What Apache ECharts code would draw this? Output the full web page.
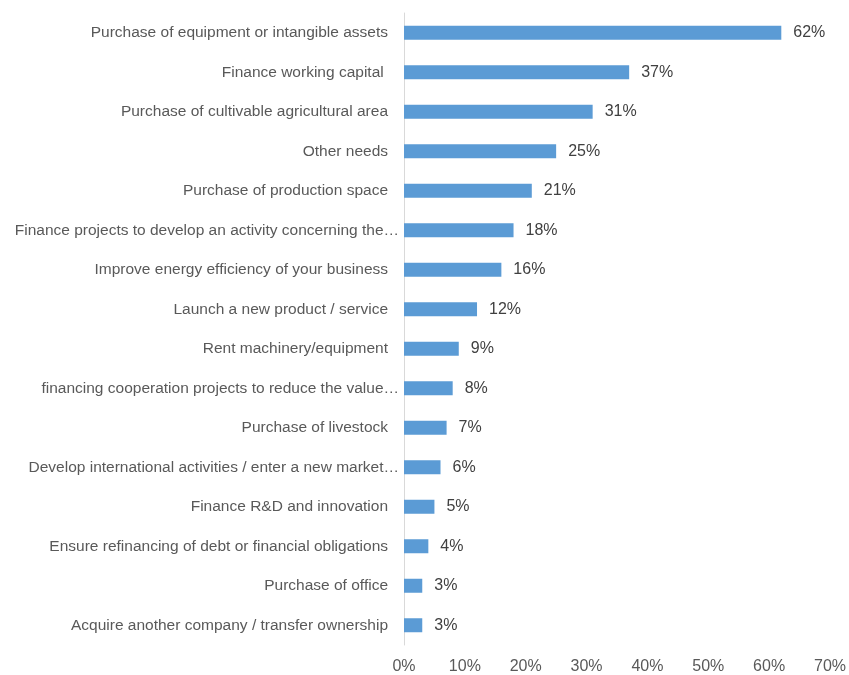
<!DOCTYPE html>
<html>
<head>
<meta charset="utf-8">
<script src="https://cdn.jsdelivr.net/npm/echarts@6/dist/echarts.min.js"></script>
<style>
  html, body { margin: 0; padding: 0; background: #ffffff; }
  #chart { width: 849px; height: 675px; }
</style>
</head>
<body>
<div id="chart"></div>
<script>
// Reasons for seeking financing, share of respondents (%)
const categories = [
  'Purchase of equipment or intangible assets',
  'Finance working capital ',
  'Purchase of cultivable agricultural area',
  'Other needs',
  'Purchase of production space',
  'Finance projects to develop an activity concerning the…',
  'Improve energy efficiency of your business',
  'Launch a new product / service',
  'Rent machinery/equipment',
  'financing cooperation projects to reduce the value…',
  'Purchase of livestock',
  'Develop international activities / enter a new market…',
  'Finance R&D and innovation',
  'Ensure refinancing of debt or financial obligations',
  'Purchase of office',
  'Acquire another company / transfer ownership'
];
const values = [62, 37, 31, 25, 21, 18, 16, 12, 9, 8, 7, 6, 5, 4, 3, 3];
const tickValues = [0, 10, 20, 30, 40, 50, 60, 70];

const FONT = 'Liberation Sans';

const chart = echarts.init(document.getElementById('chart'), null, { renderer: 'canvas' });
chart.setOption({
  animation: false,
  backgroundColor: '#ffffff',
  grid: { left: 404, right: 17, top: 13, bottom: 29, containLabel: false },
  xAxis: {
    type: 'value',
    min: tickValues[0],
    max: tickValues[tickValues.length - 1],
    interval: 10,
    axisLine: { show: false },
    axisTick: { show: false },
    splitLine: { show: false },
    axisLabel: {
      formatter: v => v + '%',
      color: '#595959',
      fontFamily: FONT,
      fontSize: 16,
      margin: 14
    }
  },
  yAxis: {
    type: 'category',
    data: categories,
    inverse: true,
    axisLine: { show: true, lineStyle: { color: '#d9d9d9', width: 1 } },
    axisTick: { show: false },
    axisLabel: {
      color: '#595959',
      fontFamily: FONT,
      fontSize: 15.5,
      margin: 16,
      formatter: v => v.endsWith('…') ? '{t|' + v + '}' : v,
      rich: {
        t: { color: '#595959', fontFamily: FONT, fontSize: 15.5, padding: [0, -11, 0, 0] }
      }
    }
  },
  series: [{
    type: 'bar',
    data: values,
    barWidth: 14,
    itemStyle: { color: '#5b9bd5' },
    label: {
      show: true,
      position: 'right',
      distance: 12,
      formatter: p => p.value + '%',
      color: '#404040',
      fontFamily: FONT,
      fontSize: 16
    }
  }]
});
</script>
</body>
</html>
